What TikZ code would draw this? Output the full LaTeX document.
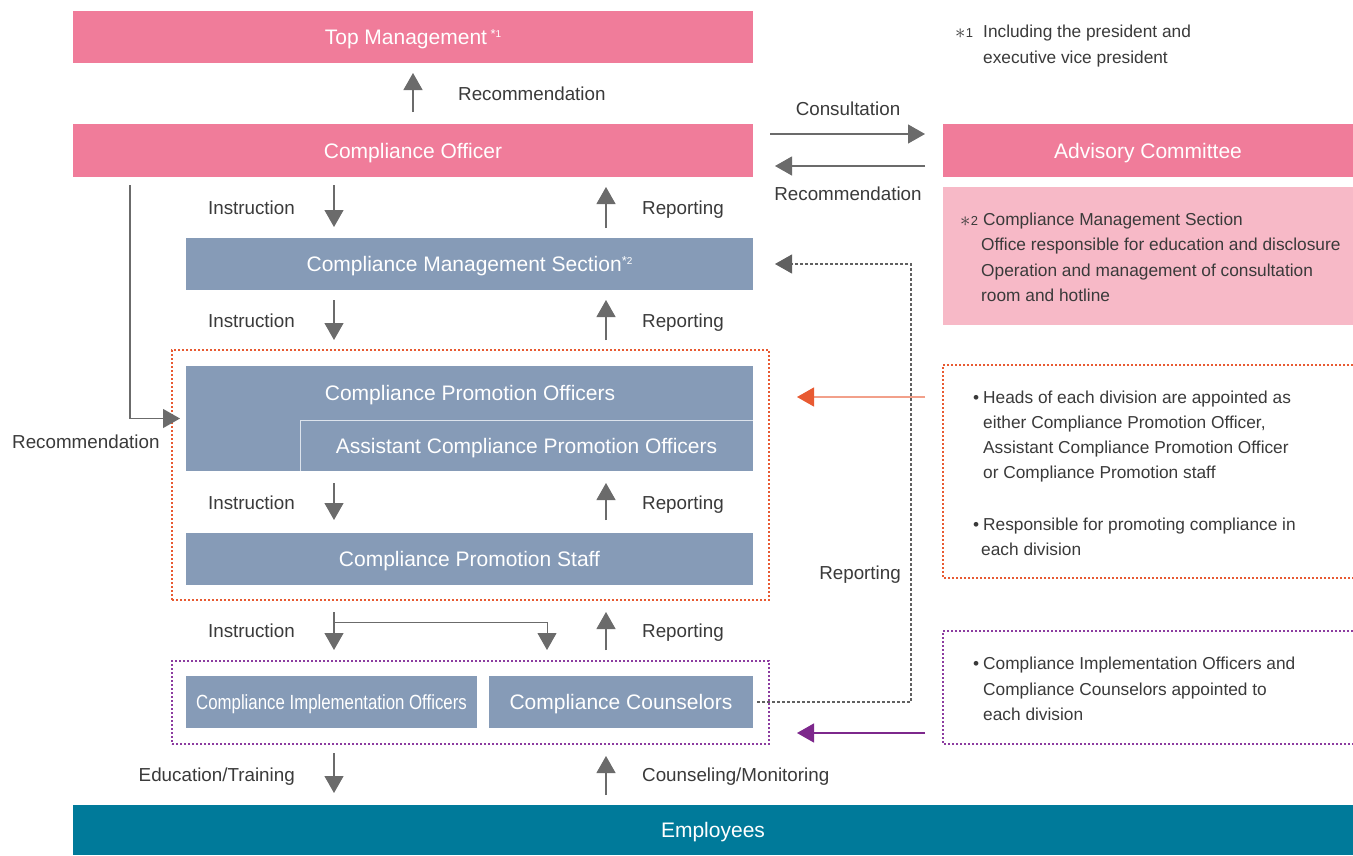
\documentclass[tikz,border=0pt]{standalone}
\usepackage{fontspec}
\setmainfont{Liberation Sans}
\newfontfamily\cionfont{Liberation Sans}[FakeStretch=0.82]
\usetikzlibrary{arrows.meta}

\definecolor{cpink}{HTML}{F07C9A}
\definecolor{cpinklt}{HTML}{F7B9C7}
\definecolor{cslate}{HTML}{869BB7}
\definecolor{cteal}{HTML}{007A9A}
\definecolor{carrow}{HTML}{6B6B6B}
\definecolor{ctext}{HTML}{3A3A3A}
\definecolor{corange}{HTML}{E85A32}
\definecolor{corangelt}{HTML}{F2A08A}
\definecolor{cpurple}{HTML}{8C3CA0}
\definecolor{cpurpledk}{HTML}{7D288C}
\definecolor{cedge}{HTML}{DCE3EC}

% footnote markers
\newcommand{\supmark}[1]{\raisebox{6pt}{\fontsize{13}{13}\selectfont *\raisebox{1.5pt}{\fontsize{10}{10}\selectfont #1}}}
\newcommand{\fnmark}[1]{\raisebox{-1pt}{\fontsize{22}{22}\selectfont$\ast$}\hspace{0.5pt}{\fontsize{13}{13}\selectfont #1}}
\newcommand{\bul}{\makebox[0pt][r]{\textbullet\hspace{4pt}}}

\begin{document}
\begin{tikzpicture}[x=1pt,y=-1pt,
  box/.style={inner sep=0pt, outer sep=0pt, text=white,
    font=\fontsize{21}{25}\selectfont, text height=18pt, text depth=3pt},
  sz/.style 2 args={minimum width=#1pt, minimum height=#2pt},
  pinkfill/.style={box, fill=cpink},
  slatefill/.style={box, fill=cslate},
  grp/.style={inner sep=0pt, outer sep=0pt, line width=1.4pt, dash pattern=on 2pt off 2pt},
  lbl/.style={inner sep=0pt, text=ctext, font=\fontsize{18.8}{22}\selectfont,
    text height=15pt, text depth=1.8pt},
  note/.style={inner sep=0pt, text=ctext, font=\fontsize{17.3}{21}\selectfont, anchor=base west},
  tip/.style={-{Triangle[length=17pt,width=19pt]}},
  flow/.style={draw=carrow, line width=1.2pt, tip},
  thinflow/.style={draw=carrow, line width=1pt, tip},
  dashflow/.style={draw=carrow!90!black, line width=1.1pt, dash pattern=on 3pt off 2pt, tip},
]
\useasboundingbox (0,0) rectangle (1353,855);
\fill[white] (0,0) rectangle (1353,855);

% column positions of the vertical arrows
\coordinate (colT) at (413,0);
\coordinate (colI) at (334,0);
\coordinate (colR) at (606,0);
\coordinate (colB) at (547,0);
\coordinate (colL) at (130,0);
\coordinate (colD) at (911,0);
\coordinate (rowC) at (0,134);
\coordinate (rowA) at (0,166);
\coordinate (rowO) at (0,397);
\coordinate (rowP) at (0,733);

% ---------- main boxes ----------
\node[pinkfill, sz={680}{52}] (top) at (413,37) {Top Management\,\supmark{1}};
\node[pinkfill, sz={680}{53}] (co) at (413,150.5) {Compliance Officer};
\node[pinkfill, sz={410}{53}] (adv) at (1148,150.5) {Advisory Committee};
\node[fill=cpinklt, inner sep=0pt, outer sep=0pt, sz={410}{138}] (cmsnote) at (1148,256) {};
\node[slatefill, sz={567}{52}] (cms) at (469.5,264) {Compliance Management Section\supmark{2}};

\node[grp, draw=corange, sz={597}{250}] (pgrp) at (470.5,475) {};
\node[slatefill, sz={567}{105}] (cpo) at (469.5,418.5) {};
\node[slatefill, sz={453}{51}] (acpo) at (526.5,445.5) {Assistant Compliance Promotion Officers};
\draw[cedge, line width=1pt] (acpo.south west) -- (acpo.north west) -- (acpo.north east);
\node[box] (cpot) at (470,393) {Compliance Promotion Officers};
\node[slatefill, sz={567}{52}] (cps) at (469.5,559) {Compliance Promotion Staff};

\node[grp, draw=cpurple, sz={597}{83}] (igrp) at (470.5,702.5) {};
\node[slatefill, sz={291}{52}, font=\cionfont\fontsize{20.5}{24}\selectfont] (cio) at (331.5,702) {Compliance Implementation Officers};
\node[slatefill, sz={264}{52}] (cc) at (621,702) {Compliance Counselors};

\node[box, fill=cteal, sz={1280}{50}] (emp) at (713,830) {Employees};

% ---------- side note frames ----------
\node[inner sep=0pt, outer sep=0pt, sz={410}{213}] (onote) at (1148,471.5) {};
\draw[grp, draw=corange] (onote.north east) -- (onote.north west) -- (onote.south west) -- (onote.south east);
\node[inner sep=0pt, outer sep=0pt, sz={410}{113}] (pnote) at (1148,687.5) {};
\draw[grp, draw=cpurple] (pnote.north east) -- (pnote.north west) -- (pnote.south west) -- (pnote.south east);

% ---------- vertical flows ----------
\draw[flow] ([yshift=12pt]co.north -| colT) -- ([yshift=-10pt]top.south -| colT);

\draw[flow] ([yshift=-8pt]co.south -| colI) -- ([yshift=11pt]cms.north -| colI);
\draw[flow] ([yshift=10pt]cms.north -| colR) -- ([yshift=-10pt]co.south -| colR);

\draw[flow] ([yshift=-10pt]cms.south -| colI) -- ([yshift=10pt]pgrp.north -| colI);
\draw[flow] ([yshift=10pt]pgrp.north -| colR) -- ([yshift=-10pt]cms.south -| colR);

\draw[flow] ([yshift=-12pt]cpo.south -| colI) -- ([yshift=13pt]cps.north -| colI);
\draw[flow] ([yshift=13pt]cps.north -| colR) -- ([yshift=-12pt]cpo.south -| colR);

\draw[flow] ([yshift=-12pt]pgrp.south -| colI) -- ([yshift=11pt]igrp.north -| colI);
\draw[thinflow] ([yshift=-22pt]pgrp.south -| colI) -| ([yshift=11pt]igrp.north -| colB);
\draw[flow] ([yshift=11pt]igrp.north -| colR) -- ([yshift=-12pt]pgrp.south -| colR);

\draw[flow] ([yshift=-9pt]igrp.south -| colI) -- ([yshift=12pt]emp.north -| colI);
\draw[flow] ([yshift=10pt]emp.north -| colR) -- ([yshift=-12pt]igrp.south -| colR);

% recommendation from the officer down to the promotion officers
\draw[thinflow, line width=1.1pt] ([yshift=-8pt]co.south -| colL) |- ([xshift=-6pt]cpo.west);

% ---------- horizontal flows ----------
\draw[flow] ([xshift=17pt]co.east |- rowC) -- ([xshift=-18pt]adv.west |- rowC);
\draw[flow] ([xshift=-18pt]adv.west |- rowA) -- ([xshift=22pt]co.east |- rowA);

\draw[dashflow] ([xshift=4pt]cc.east) -| (colD |- cms.east) -- ([xshift=22pt]cms.east);

\draw[draw=corangelt, line width=1.3pt, -{Triangle[length=17pt,width=19pt,color=corange]}]
  ([xshift=-18pt]onote.west |- rowO) -- ([xshift=28pt]pgrp.east |- rowO);
\draw[draw=cpurpledk, line width=1.3pt, -{Triangle[length=17pt,width=19pt,color=cpurpledk]}]
  ([xshift=-18pt]pnote.west |- rowP) -- ([xshift=28pt]igrp.east |- rowP);

% ---------- flow labels ----------
\node[lbl, anchor=west] (lrecT) at (458,94) {Recommendation};
\node[lbl] (lcons) at (848,109) {Consultation};
\node[lbl] (lrecA) at (848,194) {Recommendation};
\node[lbl, anchor=east] (lins1) at (295,208) {Instruction};
\node[lbl, anchor=west] (lrep1) at (642,208) {Reporting};
\node[lbl, anchor=east] (lins2) at (295,321) {Instruction};
\node[lbl, anchor=west] (lrep2) at (642,321) {Reporting};
\node[lbl, anchor=west] (lrecL) at (12,442) {Recommendation};
\node[lbl, anchor=east] (lins3) at (295,503) {Instruction};
\node[lbl, anchor=west] (lrep3) at (642,503) {Reporting};
\node[lbl, anchor=east] (lrepD) at (901,573) {Reporting};
\node[lbl, anchor=east] (lins4) at (295,631) {Instruction};
\node[lbl, anchor=west] (lrep4) at (642,631) {Reporting};
\node[lbl, anchor=east] (ledu) at (295,775) {Education/Training};
\node[lbl, anchor=west] (lcoun) at (642,775) {Counseling/Monitoring};

% ---------- notes ----------
\node[note] (f1) at (983,37.5) {\makebox[0pt][r]{\fnmark{1}\hspace{10pt}}Including the president and};
\node[note] (f2) at (983,63.5) {executive vice president};

\node[note] (c1) at (983,225.5) {\makebox[0pt][r]{\fnmark{2}\hspace{5pt}}Compliance Management Section};
\node[note] (c2) at (981,250.5) {Office responsible for education and disclosure};
\node[note] (c3) at (981,276.5) {Operation and management of consultation};
\node[note] (c4) at (981,301.5) {room and hotline};

\node[note] (o1) at (983,403.5) {\bul Heads of each division are appointed as};
\node[note] (o2) at (983,428.5) {either Compliance Promotion Officer,};
\node[note] (o3) at (983,453.5) {Assistant Compliance Promotion Officer};
\node[note] (o4) at (983,478.5) {or Compliance Promotion staff};
\node[note] (o5) at (983,530.5) {\bul Responsible for promoting compliance in};
\node[note] (o6) at (981,555.5) {each division};

\node[note] (p1) at (983,669.5) {\bul Compliance Implementation Officers and};
\node[note] (p2) at (983,695.5) {Compliance Counselors appointed to};
\node[note] (p3) at (983,720.5) {each division};
\end{tikzpicture}
\end{document}
